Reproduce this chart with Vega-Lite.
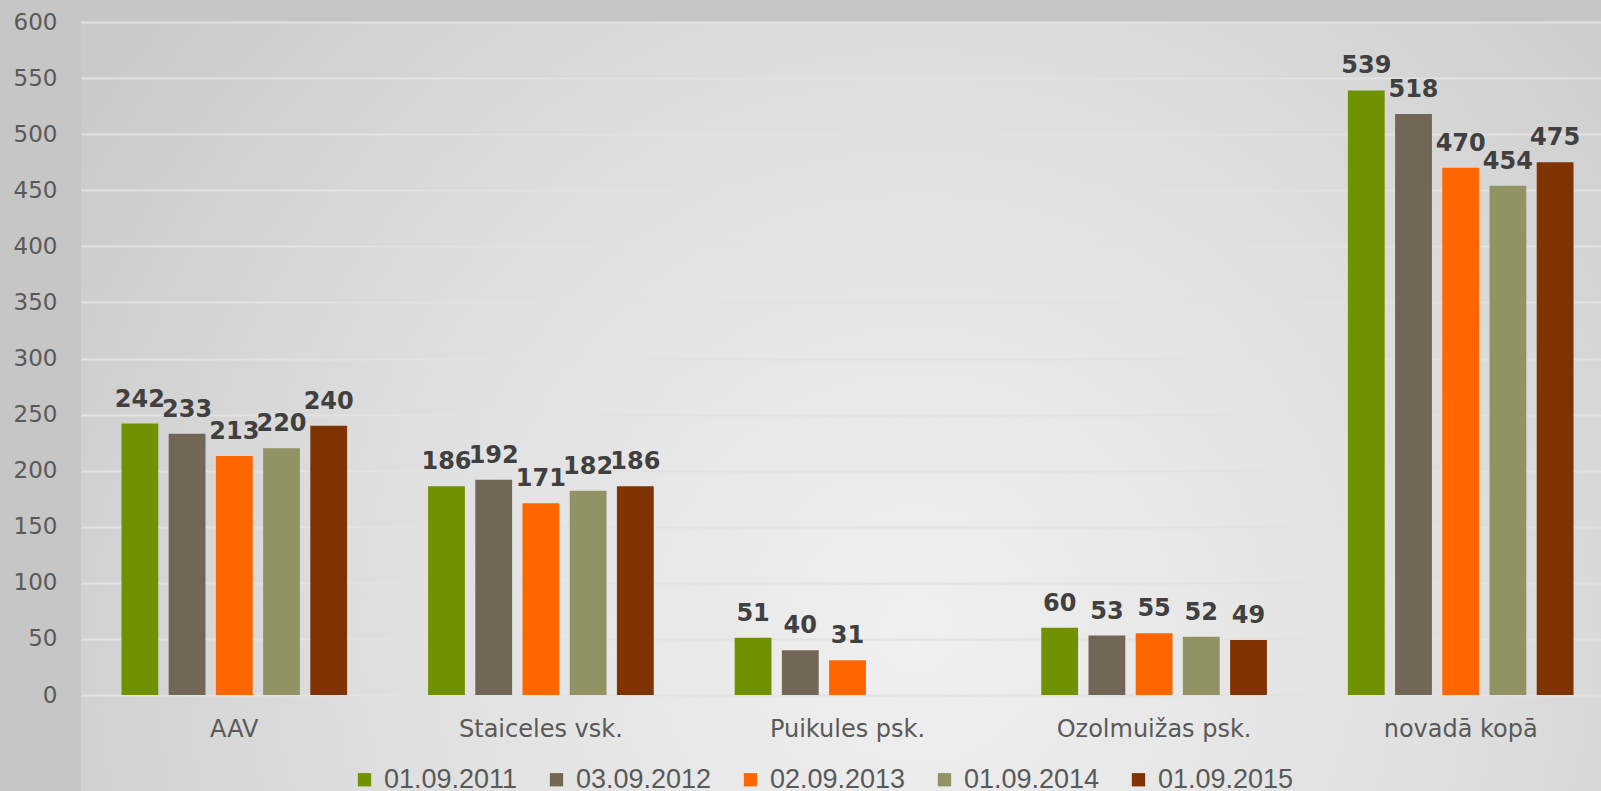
{
  "$schema": "https://vega.github.io/schema/vega-lite/v6.json",
  "width": 1520,
  "height": 769,
  "autosize": {"type": "none"},
  "padding": {"left": 81, "top": 22, "right": 0, "bottom": 0},
  "background": "#c6c6c6",
  "config": {"font": "DejaVu Sans"},
  "view": {
    "stroke": null,
    "fill": {
      "gradient": "radial",
      "x1": 0.55, "y1": 0.65, "x2": 0.55, "y2": 0.65, "r1": 0, "r2": 0.85,
      "stops": [
        {"offset": 0, "color": "#f0f0f0"},
        {"offset": 0.4, "color": "#e0e0e0"},
        {"offset": 0.75, "color": "#cbcbcb"},
        {"offset": 1, "color": "#c2c2c2"}
      ]
    }
  },
  "data": {"values": [
      {"school": "AAV", "date": "01.09.2011", "value": 242},
      {"school": "AAV", "date": "03.09.2012", "value": 233},
      {"school": "AAV", "date": "02.09.2013", "value": 213},
      {"school": "AAV", "date": "01.09.2014", "value": 220},
      {"school": "AAV", "date": "01.09.2015", "value": 240},
      {"school": "Staiceles vsk.", "date": "01.09.2011", "value": 186},
      {"school": "Staiceles vsk.", "date": "03.09.2012", "value": 192},
      {"school": "Staiceles vsk.", "date": "02.09.2013", "value": 171},
      {"school": "Staiceles vsk.", "date": "01.09.2014", "value": 182},
      {"school": "Staiceles vsk.", "date": "01.09.2015", "value": 186},
      {"school": "Puikules psk.", "date": "01.09.2011", "value": 51},
      {"school": "Puikules psk.", "date": "03.09.2012", "value": 40},
      {"school": "Puikules psk.", "date": "02.09.2013", "value": 31},
      {"school": "Ozolmuižas psk.", "date": "01.09.2011", "value": 60},
      {"school": "Ozolmuižas psk.", "date": "03.09.2012", "value": 53},
      {"school": "Ozolmuižas psk.", "date": "02.09.2013", "value": 55},
      {"school": "Ozolmuižas psk.", "date": "01.09.2014", "value": 52},
      {"school": "Ozolmuižas psk.", "date": "01.09.2015", "value": 49},
      {"school": "novadā kopā", "date": "01.09.2011", "value": 539},
      {"school": "novadā kopā", "date": "03.09.2012", "value": 518},
      {"school": "novadā kopā", "date": "02.09.2013", "value": 470},
      {"school": "novadā kopā", "date": "01.09.2014", "value": 454},
      {"school": "novadā kopā", "date": "01.09.2015", "value": 475}
  ]},
  "encoding": {
    "x": {
      "field": "school", "type": "nominal", "title": null,
      "sort": ["AAV", "Staiceles vsk.", "Puikules psk.", "Ozolmuižas psk.", "novadā kopā"],
      "scale": {"range": [0, 1533], "paddingInner": 0.264, "paddingOuter": 0.132},
      "axis": {"orient": "bottom", "offset": -96, "labelAngle": 0, "domain": false, "ticks": false, "grid": false,
               "labelFont": "DejaVu Sans", "labelFontSize": 24, "labelColor": "#595959", "labelPadding": 22, "labelLimit": 0}
    },
    "xOffset": {
      "field": "date", "type": "nominal",
      "sort": ["01.09.2011", "03.09.2012", "02.09.2013", "01.09.2014", "01.09.2015"],
      "scale": {"paddingInner": 0.22, "paddingOuter": 0}
    },
    "y": {
      "field": "value", "type": "quantitative", "title": null,
      "scale": {"domain": [0, 600], "range": [673, 0], "nice": false, "zero": true},
      "axis": {"values": [0, 50, 100, 150, 200, 250, 300, 350, 400, 450, 500, 550, 600],
               "domain": false, "ticks": false, "grid": true, "gridColor": "#e2e2e2", "gridWidth": 2,
               "labelFont": "DejaVu Sans", "labelFontSize": 23, "labelColor": "#595959", "labelPadding": 24}
    }
  },
  "layer": [
    {
      "mark": {"type": "bar"},
      "encoding": {
        "color": {
          "field": "date", "type": "nominal", "title": null,
          "sort": ["01.09.2011", "03.09.2012", "02.09.2013", "01.09.2014", "01.09.2015"],
          "scale": {
            "domain": ["01.09.2011", "03.09.2012", "02.09.2013", "01.09.2014", "01.09.2015"],
            "range": ["#719200", "#726756", "#ff6600", "#919364", "#7f3300"]
          },
          "legend": {
            "orient": "none", "legendX": 270, "legendY": 744, "direction": "horizontal", "columns": 5,
            "symbolType": "square", "symbolSize": 177, "symbolStrokeWidth": 0,
            "labelFont": "Liberation Sans", "labelFontSize": 27, "labelColor": "#595959",
            "columnPadding": 25, "labelOffset": 6
          }
        }
      }
    },
    {
      "mark": {"type": "text", "baseline": "alphabetic", "align": "center", "dy": -17,
               "font": "DejaVu Sans", "fontWeight": "bold", "fontSize": 24, "color": "#404040"},
      "encoding": {
        "text": {"field": "value", "type": "quantitative"}
      }
    }
  ]
}
